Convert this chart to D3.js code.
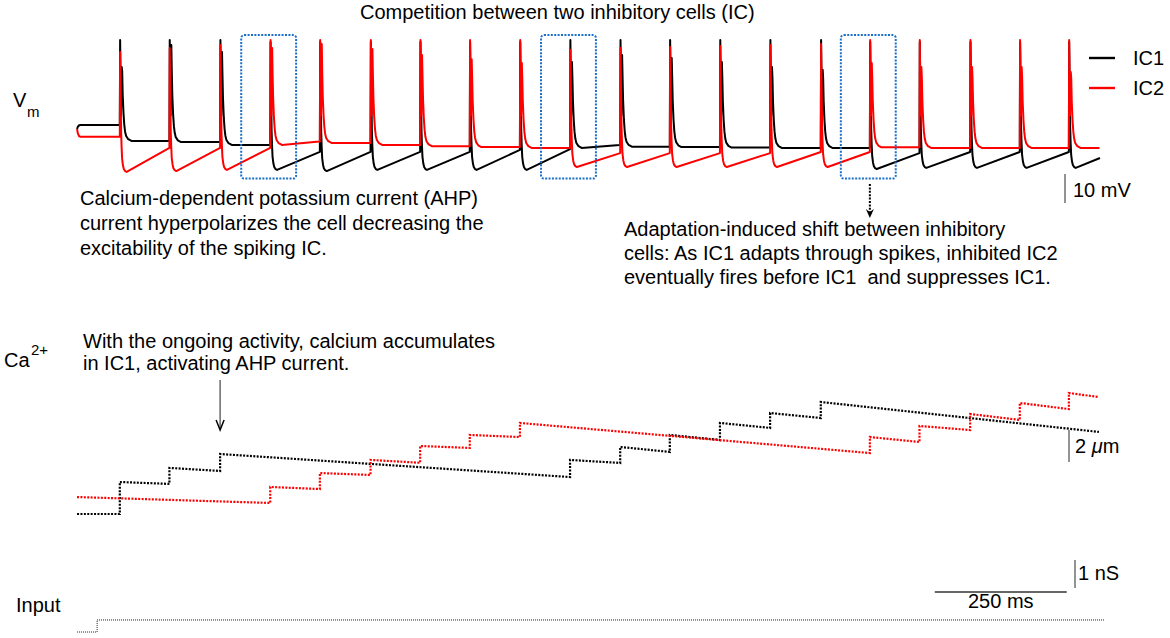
<!DOCTYPE html>
<html>
<head>
<meta charset="utf-8">
<script src="https://cdn.jsdelivr.net/npm/d3@7"></script>
<style>
  body { margin: 0; background: #fff; }
  svg { display: block; font-family: "Liberation Sans", Arial, sans-serif; }
</style>
</head>
<body>
<svg id="chart" width="1170" height="638"></svg>
<script>
// spike times (ms) of the 20 cycles and which cell wins each one (1 = IC1, 2 = IC2)
var spikeT = [83, 177, 273, 368, 462, 558, 652, 746, 841, 936,
              1031, 1125, 1220, 1315, 1411, 1504, 1598, 1694, 1788, 1881];
var winner = [1, 1, 1, 2, 2, 2, 2, 2, 2, 1, 1, 1, 1, 1, 1, 2, 2, 2, 2, 2];
var tEnd = 1940;

// membrane potential (mV), read per cycle
var ic1Start = [[2, -50.7], [3.5, -49.9], [6, -49.4], [9, -49.3]];
var ic2Start = [[2, -50.7], [3.5, -52.2], [6, -53.2], [9, -53.4]];
var peakV = -20, dipV = -46;
var shoulderV = [-29.3, -21.7, -24.1, -22.8, -21.4, -23.1, -25.2, -26.6, -27.9, -27.6,
                 -25.2, -26.2, -27.6, -29.3, -30.3, -27.9, -29.3, -29.3, -29.3, -31.0];
var plateauA = [-54.8, -55.2, -56.2, -56.2, -55.5, -56.2, -56.6, -56.9, -57.2, -57.2,
                -56.8, -56.9, -57.1, -57.2, -57.2, -57.0, -57.2, -57.2, -57.2, -57.2];
var plateauB = [-54.8, -55.2, -56.2, -55.0, -55.5, -56.2, -56.6, -56.9, -57.2, -56.2,
                -56.8, -56.9, -57.1, -57.2, -57.2, -57.0, -57.2, -57.2, -57.2, -57.2];
var loserPeak = [-24.1, -22.8, -21.7, -20.7, -20.7, -20.7, -20.7, -20.7, -20.7, -23.4,
                 -22.8, -22.4, -22.1, -21.7, -21.4, -20.7, -20.7, -20.7, -20.7, -20.7];
var troughV = [-65.5, -65.2, -64.8, -64.8, -65.2, -64.8, -64.8, -64.8, -64.8, -63.8,
               -63.8, -63.8, -63.8, -63.8, -63.8, -64.5, -64.1, -64.1, -64.1, -64.1];
var rampEnd = [-57.2, -57.2, -57.2, -58.6, -58.6, -58.6, -58.6, -57.9, -57.6, -59.0,
               -59.0, -59.0, -59.0, -58.6, -58.6, -59.0, -58.6, -58.6, -58.6, -60.7];
var decayShape = [[4.5, 24], [5.5, 16], [7, 9.5], [8.5, 5.5], [10, 3.2], [12, 1.7], [16, 0.6], [22, 0]];
var fallShape = [[2.5, 13.8], [3.4, 8.5], [4.4, 4.5], [6, 2.2], [7.6, 1], [10, 0.3], [13, 0]];

// calcium: value before / after each jump of the winning cell
var caStart = {1: 1.0, 2: 2.06};
var caEnd = {1: 6.13, 2: 8.31};
var caIC1Jumps = [[1.0, 3.0], [2.88, 3.88], [3.69, 4.75], [3.31, 4.38], [4.19, 5.19],
                  [4.88, 5.94], [5.63, 6.69], [6.38, 7.31], [7.0, 8.0]];
var caIC2Jumps = [[1.69, 2.69], [2.56, 3.56], [3.44, 4.38], [4.2, 5.25], [5.13, 5.94],
                  [5.81, 6.69], [4.81, 5.81], [5.5, 6.5], [6.25, 7.25], [6.88, 7.94], [7.56, 8.56]];

// input conductance (nS)
var inputG = [[2, 0], [40, 0], [40, 0.43], [1948, 0.43]];

var boxSpikes = [3, 9, 15];   // cycles where the winner switches

var svg = d3.select("#chart");
var red = "#ff0000", blue = "#1a6fc9", grey = "#666";

var x = d3.scaleLinear().domain([0, tEnd]).range([76, 1100]);
var yV = d3.scaleLinear().domain([-75, -20]).range([199.5, 40]);
var yCa = d3.scaleLinear().domain([0, 10]).range([530, 370]);
var yIn = d3.scaleLinear().domain([0, 1]).range([632, 604]);

function vmTrace(cell) {
    var pts = (cell === 1 ? ic1Start : ic2Start).slice();
    var level = pts[pts.length - 1][1];
    spikeT.forEach(function(t, i) {
        var tNext = i + 1 < spikeT.length ? spikeT[i + 1] : tEnd;
        pts.push([t, level]);
        if (winner[i] === cell) {
            pts.push([t + 0.6, peakV]);
            pts.push([t + 2.2, dipV]);
            pts.push([t + 3.6, shoulderV[i]]);
            decayShape.forEach(function(d) { pts.push([t + d[0], plateauA[i] + d[1]]); });
            level = plateauB[i];
            pts.push([tNext - 1, level]);
        } else {
            // loser: dip to the AHP trough, then a straight recovery ramp
            pts.push([t + 0.6, loserPeak[i]]);
            fallShape.forEach(function(d) { pts.push([t + d[0], troughV[i] + d[1]]); });
            level = rampEnd[i];
            if (i + 1 === spikeT.length) pts.push([tNext, level]);
        }
    });
    return pts;
}

function caTrace(cell) {
    var jumps = cell === 1 ? caIC1Jumps : caIC2Jumps;
    var pts = [[2, caStart[cell]]], j = 0;
    spikeT.forEach(function(t, i) {
        if (winner[i] === cell) {
            pts.push([t, jumps[j][0]], [t, jumps[j][1]]);
            j++;
        }
    });
    pts.push([1938, caEnd[cell]]);
    return pts;
}

var vmLine = d3.line()
    .x(function(d) { return x(d[0]); })
    .y(function(d) { return yV(d[1]); });

var caLine = d3.line()
    .x(function(d) { return x(d[0]); })
    .y(function(d) { return yCa(d[1]); });

var inLine = d3.line()
    .x(function(d) { return x(d[0]); })
    .y(function(d) { return yIn(d[1]); });

// Vm traces: IC1 underneath, IC2 on top
[[1, "#000"], [2, red]].forEach(function(c) {
    svg.append("path")
        .attr("d", vmLine(vmTrace(c[0])))
        .attr("fill", "none")
        .attr("stroke", c[1])
        .attr("stroke-width", 2)
        .attr("stroke-linejoin", "round");
});

// dotted boxes around the switching spikes
svg.selectAll(".box")
    .data(boxSpikes)
    .enter().append("rect")
    .attr("class", "box")
    .attr("x", function(i) { return x(spikeT[i] - 55); })
    .attr("y", yV(-18.3))
    .attr("width", function(i) { return x(spikeT[i] + 49) - x(spikeT[i] - 55); })
    .attr("height", yV(-67.8) - yV(-18.3))
    .attr("rx", 3)
    .attr("fill", "none")
    .attr("stroke", blue)
    .attr("stroke-width", 2)
    .attr("stroke-dasharray", "2 1.4");

// Ca traces
[[1, "#000"], [2, red]].forEach(function(c) {
    svg.append("path")
        .attr("d", caLine(caTrace(c[0])))
        .attr("fill", "none")
        .attr("stroke", c[1])
        .attr("stroke-width", 2.2)
        .attr("stroke-dasharray", "2 1.4");
});

// input
svg.append("path")
    .attr("d", inLine(inputG))
    .attr("fill", "none")
    .attr("stroke", "#222")
    .attr("stroke-width", 1)
    .attr("stroke-dasharray", "1 1");

// scale bars
function vbar(xp, y0, y1) {
    svg.append("line").attr("x1", xp).attr("x2", xp).attr("y1", y0).attr("y2", y1)
        .attr("stroke", grey).attr("stroke-width", 1.4);
}
vbar(1065, yV(-66.2), yV(-76.2));
vbar(1069, yCa(6.25), yCa(4.25));
vbar(1075, yIn(2.57), yIn(1.57));
svg.append("line")
    .attr("x1", x(1627)).attr("x2", x(1877))
    .attr("y1", 592).attr("y2", 592)
    .attr("stroke", grey).attr("stroke-width", 2);

// legend
[["IC1", "#000", 58], ["IC2", red, 88]].forEach(function(l) {
    svg.append("line").attr("x1", 1089).attr("x2", 1115).attr("y1", l[2]).attr("y2", l[2])
        .attr("stroke", l[1]).attr("stroke-width", 2.4);
    svg.append("text").attr("x", 1133).attr("y", l[2] + 7).attr("font-size", 20).text(l[0]);
});

// texts
function txt(xp, yp, s, size) {
    return svg.append("text").attr("x", xp).attr("y", yp)
        .attr("font-size", size || 20).attr("fill", "#000").text(s);
}
txt(360, 19, "Competition between two inhibitory cells (IC)");

var vm = txt(13, 107, "V");
vm.append("tspan").attr("x", 27).attr("y", 117).attr("font-size", 15).text("m");
var ca = txt(4, 367, "Ca");
ca.append("tspan").attr("x", 31).attr("y", 355).attr("font-size", 15).text("2+");
txt(16, 612, "Input");

["Calcium-dependent potassium current (AHP)",
 "current hyperpolarizes the cell decreasing the",
 "excitability of the spiking IC."].forEach(function(s, i) { txt(80, 205 + i * 25, s); });

["Adaptation-induced shift between inhibitory",
 "cells: As IC1 adapts through spikes, inhibited IC2",
 "eventually fires before IC1\u00a0 and suppresses IC1."].forEach(function(s, i) { txt(624, 236 + i * 24, s); });

["With the ongoing activity, calcium accumulates",
 "in IC1, activating AHP current."].forEach(function(s, i) { txt(83, 348 + i * 22, s); });

txt(1073, 197, "10 mV");
var um = txt(1075, 453, "2 ");
um.append("tspan").attr("font-style", "italic").text("\u03bc");
um.append("tspan").text("m");
txt(1078, 580, "1 nS");
txt(x(1752), 608, "250 ms").attr("text-anchor", "middle");

// dotted arrow below the third box
var ax = x(spikeT[15]);
svg.append("line").attr("x1", ax).attr("x2", ax).attr("y1", 184).attr("y2", 212)
    .attr("stroke", "#000").attr("stroke-width", 2).attr("stroke-dasharray", "2 1.4");
svg.append("path")
    .attr("d", "M" + (ax - 4) + ",209L" + ax + ",218L" + (ax + 4) + ",209L" + ax + ",212Z")
    .attr("fill", "#000");

// thin arrow to the third IC1 calcium step
var cx = x(spikeT[2]);
svg.append("line").attr("x1", cx).attr("x2", cx).attr("y1", 380).attr("y2", 429)
    .attr("stroke", "#444").attr("stroke-width", 1.2);
svg.append("path")
    .attr("d", "M" + (cx - 4) + ",420L" + cx + ",430L" + (cx + 4) + ",420")
    .attr("fill", "none").attr("stroke", "#000").attr("stroke-width", 1.5);
</script>
</body>
</html>
